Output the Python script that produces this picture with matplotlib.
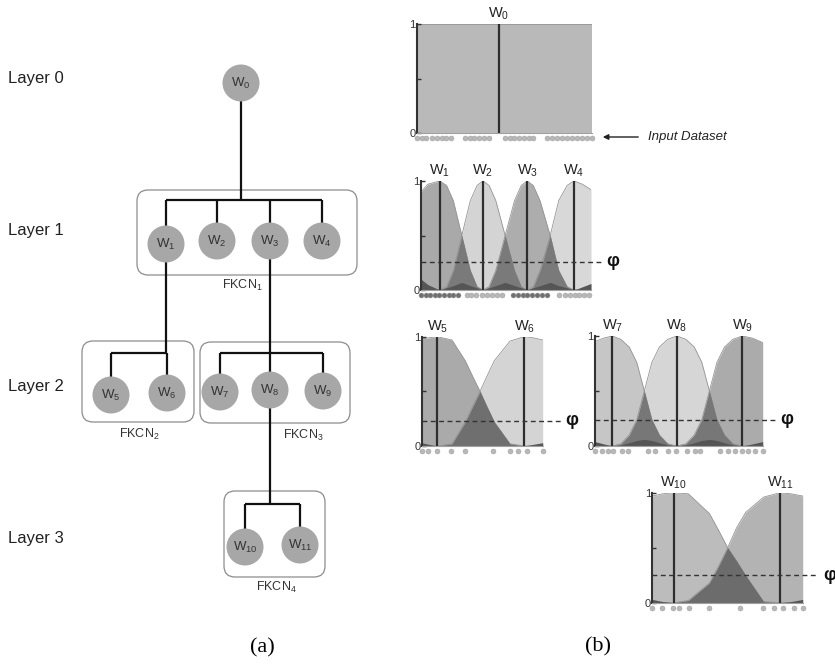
import matplotlib
matplotlib.use('Agg')
import matplotlib.pyplot as plt
from matplotlib.patches import Circle, FancyBboxPatch
import numpy as np

plt.rcParams['font.family'] = ['Liberation Sans', 'DejaVu Sans']
plt.rcParams['mathtext.default'] = 'regular'

W, H = 835, 668

# ---------------- (a) tree ----------------
LAYER_LABELS = ['Layer 0', 'Layer 1', 'Layer 2', 'Layer 3']
NODE_IDS = ['0', '1', '2', '3', '4', '5', '6', '7', '8', '9', '10', '11']
CLUSTER_IDS = ['1', '2', '3', '4']
CLUSTER_PARENT = [0, 1, 3, 8]
CLUSTER_CHILDREN = [[1, 2, 3, 4], [5, 6], [7, 8, 9], [10, 11]]

# ---------------- (b) membership panels ----------------
P0_X = [0, 100]
P0_W0 = [1.0, 1.0]
P0_CENTERS = [46.9]
P0_DOTS = [0, 2.7, 5.3, 8.6, 11.3, 14, 16.7, 19.4, 27.4, 30.1, 32.8, 35.5, 38.2, 40.9,
           50.3, 53, 55.7, 58.4, 61.1, 63.8, 66.5, 74, 76.9, 79.8, 82.7, 85.6, 88.5,
           91.4, 94.3, 97.2, 100]

P1_X = [0, 4, 11, 15, 19, 24, 29, 33, 36.5, 40, 44, 49.5, 55, 59, 62.5, 66, 70, 76, 81, 86, 90, 95, 100]
P1_W1 = [0.90, 0.97, 1.00, 0.96, 0.82, 0.50, 0.18, 0.03, 0, 0, 0, 0, 0, 0, 0, 0, 0, 0, 0, 0, 0, 0, 0]
P1_W2 = [0, 0, 0, 0.03, 0.18, 0.50, 0.82, 0.96, 1.00, 0.96, 0.82, 0.50, 0.18, 0.03, 0, 0, 0, 0, 0, 0, 0, 0, 0]
P1_W3 = [0, 0, 0, 0, 0, 0, 0, 0, 0, 0.03, 0.18, 0.50, 0.82, 0.96, 1.00, 0.96, 0.82, 0.50, 0.18, 0.03, 0, 0, 0]
P1_W4 = [0, 0, 0, 0, 0, 0, 0, 0, 0, 0, 0, 0, 0, 0, 0, 0.03, 0.18, 0.50, 0.82, 0.96, 1.00, 0.97, 0.92]
P1_LOW = [0.10, 0.05, 0, 0.02, 0.04, 0.07, 0.04, 0.02, 0, 0.02, 0.04, 0.07, 0.04, 0.02, 0, 0.02, 0.04, 0.07, 0.04, 0.02, 0, 0.03, 0.06]
P1_CENTERS = [11, 36.5, 62.5, 90]
P1_DOTS = [[0, 2.7, 5.3, 8, 10.8, 13.5, 16.3, 19, 21.8],
           [26.9, 29.6, 32.4, 35.7, 39, 41.8, 44.5, 47.5],
           [54.3, 57.1, 59.8, 62.5, 65.3, 68, 71, 74],
           [81.4, 84.9, 87.6, 90.4, 93.1, 95.9, 98.6]]
P1_PHI = 0.26

P2A_X = [0, 6, 12.9, 25, 36, 42, 48.2, 54, 60, 73, 84.8, 92, 100]
P2A_W5 = [0.98, 0.99, 1.0, 0.97, 0.78, 0.64, 0.50, 0.36, 0.22, 0.02, 0, 0, 0]
P2A_W6 = [0, 0, 0, 0.02, 0.22, 0.36, 0.50, 0.64, 0.78, 0.96, 1.0, 0.99, 0.97]
P2A_LOW = [0.03, 0.015, 0, 0, 0, 0, 0, 0, 0, 0, 0, 0.015, 0.03]
P2A_CENTERS = [12.9, 84.8]
P2A_DOTS = [0, 5.5, 12.9, 24.6, 36.1, 59, 73, 79.9, 87.3, 100]
P2A_PHI = 0.23

P2B_X = [0, 5, 10.3, 15.4, 20.4, 24.9, 29.4, 33.9, 38.4, 43.4, 48.7, 54.2, 59.2, 63.7, 68.2, 72.7, 77.2, 82.2, 87.8, 94, 100]
P2B_W7 = [0.95, 0.98, 1.00, 0.97, 0.90, 0.76, 0.50, 0.24, 0.10, 0.02, 0, 0, 0, 0, 0, 0, 0, 0, 0, 0, 0]
P2B_W8 = [0, 0, 0, 0.02, 0.10, 0.24, 0.50, 0.76, 0.90, 0.97, 1.00, 0.97, 0.90, 0.76, 0.50, 0.24, 0.10, 0.02, 0, 0, 0]
P2B_W9 = [0, 0, 0, 0, 0, 0, 0, 0, 0, 0, 0, 0.02, 0.10, 0.24, 0.50, 0.76, 0.90, 0.97, 1.00, 0.98, 0.94]
P2B_LOW = [0.04, 0.02, 0, 0.01, 0.03, 0.05, 0.06, 0.05, 0.03, 0.01, 0, 0.01, 0.03, 0.05, 0.06, 0.05, 0.03, 0.01, 0, 0.02, 0.04]
P2B_CENTERS = [10.3, 48.7, 87.8]
P2B_DOTS = [0, 4, 7.9, 10.9, 15.9, 19.9, 31.8, 35.8, 43.7, 48.3, 54.7, 59.6, 62.6, 74.5,
            79.5, 83.5, 87.5, 91.4, 95.4, 100]
P2B_PHI = 0.24

P3_X = [0, 7, 14.4, 24, 38, 44, 50.1, 56, 62, 74, 84.9, 92, 100]
P3_W10 = [0.97, 0.99, 1.00, 0.99, 0.81, 0.66, 0.50, 0.38, 0.25, 0.01, 0, 0, 0]
P3_W11 = [0, 0, 0, 0.02, 0.18, 0.33, 0.50, 0.68, 0.82, 0.96, 1.00, 0.99, 0.97]
P3_LOW = [0.03, 0.01, 0, 0, 0, 0, 0, 0, 0, 0, 0, 0.01, 0.03]
P3_CENTERS = [14.4, 84.9]
P3_DOTS = [0, 6.7, 13.7, 17.9, 24.7, 37.8, 58.4, 73.5, 80.6, 86.8, 93.9, 100]
P3_PHI = 0.25


def wlabel(i):
    return r'$W_{%s}$' % i


fig = plt.figure(figsize=(W / 100, H / 100), dpi=100)
base = fig.add_axes([0, 0, 1, 1])
base.set_xlim(0, W)
base.set_ylim(H, 0)
base.axis('off')

# node centres in pixels
node_xy = {0: (241, 83), 1: (166, 244), 2: (217, 241), 3: (270, 241), 4: (322, 241),
           5: (111, 395), 6: (167, 393), 7: (220, 392), 8: (270, 390), 9: (323, 391),
           10: (245, 547), 11: (300, 545)}
bar_y = [200, 353, 353, 504]
boxes = [(137, 190, 357, 275), (82, 341, 194, 422), (200, 342, 350, 423), (224, 491, 325, 577)]
cluster_lbl_xy = [(242, 285), (139, 434), (303, 435), (276, 587)]
layer_y = [79, 230, 386, 538]

line_kw = dict(color='#111111', lw=1.6, zorder=2, solid_capstyle='butt')
for k, (p, kids) in enumerate(zip(CLUSTER_PARENT, CLUSTER_CHILDREN)):
    px, py = node_xy[p]
    by = bar_y[k]
    base.plot([px, px], [py, by], **line_kw)
    xs = [node_xy[c][0] for c in kids]
    base.plot([min(xs), max(xs)], [by, by], **line_kw)
    for c in kids:
        cx, cy = node_xy[c]
        base.plot([cx, cx], [by, cy], **line_kw)
    x0, y0, x1, y1 = boxes[k]
    base.add_patch(FancyBboxPatch((x0, y0), x1 - x0, y1 - y0,
                                  boxstyle='round,pad=0,rounding_size=11',
                                  fc='none', ec='#8c8c8c', lw=0.9, zorder=1))
    lx, ly = cluster_lbl_xy[k]
    base.text(lx, ly, r'$FKCN_{%s}$' % CLUSTER_IDS[k], ha='center', va='center',
              fontsize=9, color='#333333')

for i, nid in enumerate(NODE_IDS):
    cx, cy = node_xy[i]
    base.add_patch(Circle((cx, cy), 18.5, fc='#a7a7a7', ec='none', zorder=3))
    base.text(cx, cy, wlabel(nid), ha='center', va='center', fontsize=9.5,
              color='#333333', zorder=4)

for lab, y in zip(LAYER_LABELS, layer_y):
    base.text(8, y, lab, ha='left', va='center', fontsize=12, color='#222222')

base.text(262, 648, '(a)', ha='center', va='center', fontsize=16,
          family=['Liberation Serif', 'DejaVu Serif'])
base.text(598, 647, '(b)', ha='center', va='center', fontsize=16,
          family=['Liberation Serif', 'DejaVu Serif'])

base.annotate('', xy=(600, 137), xytext=(641, 137),
              arrowprops=dict(arrowstyle='-|>', color='#222222', lw=1.0, mutation_scale=8))
base.text(648, 137, 'Input Dataset', ha='left', va='center', fontsize=9.5,
          style='italic', color='#222222')


def px_axes(l, t, r, b):
    ax = fig.add_axes([l / W, 1 - b / H, (r - l) / W, (b - t) / H])
    ax.set_facecolor('none')
    ax.set_xlim(0, 100)
    ax.set_ylim(0, 1)
    for s in ['top', 'right']:
        ax.spines[s].set_visible(False)
    ax.spines['left'].set_color('#333333')
    ax.spines['left'].set_linewidth(1.5)
    ax.spines['bottom'].set_color('#a0a0a0')
    ax.spines['bottom'].set_linewidth(0.8)
    ax.set_xticks([])
    ax.set_yticks([0, 0.5, 1])
    ax.set_yticklabels(['0', '', '1'])
    ax.tick_params(axis='y', direction='in', length=3, width=1, color='#333333',
                   labelsize=8, pad=1, labelcolor='#333333')
    return ax


def draw_panel(ax, xs, curves, colors, overlap_col, low, centers, names,
               dots, dot_cols, phi=None, phi_end=None, phi_txt=None):
    xs = np.asarray(xs, float)
    for y, c in zip(curves, colors):
        ax.fill_between(xs, 0, y, color=c, lw=0, zorder=1)
        ax.plot(xs, y, color='#959595', lw=0.6, zorder=1.5)
    for a, b in zip(curves[:-1], curves[1:]):
        ax.fill_between(xs, 0, np.minimum(a, b), color=overlap_col, lw=0, zorder=2)
    if low is not None:
        ax.fill_between(xs, 0, low, color='#555555', lw=0, zorder=2.5)
    ax.vlines(centers, 0, 1, color='#2e2e2e', lw=1.6, zorder=4)
    for cx, n in zip(centers, names):
        ax.text(cx, 1.015, wlabel(n), ha='center', va='bottom', fontsize=10.5,
                color='#222222')
    for grp, dc in zip(dots, dot_cols):
        ax.scatter(grp, [-0.045] * len(grp), s=13, color=dc, edgecolors='#9a9a9a',
                   linewidths=0.3, clip_on=False, zorder=6)
    if phi is not None:
        ax.plot([0, phi_end], [phi, phi], ls=(0, (3.5, 2.5)), color='#333333', lw=1.0,
                clip_on=False, zorder=5)
        ax.text(phi_txt, phi, 'φ', ha='center', va='center', fontsize=13,
                fontweight='bold', color='#111111')


LIGHT_DOT = '#b8b8b8'
DARK_DOT = '#6f6f6f'

ax0 = px_axes(417, 24, 592, 133)
draw_panel(ax0, P0_X, [P0_W0], ['#b9b9b9'], '#777777', None, P0_CENTERS, ['0'],
           [P0_DOTS], [LIGHT_DOT])

ax1 = px_axes(421, 181, 591, 290)
draw_panel(ax1, P1_X, [P1_W1, P1_W2, P1_W3, P1_W4],
           ['#a9a9a9', '#d4d4d4', '#adadad', '#d8d8d8'], '#7a7a7a', P1_LOW,
           P1_CENTERS, ['1', '2', '3', '4'], P1_DOTS,
           [DARK_DOT, LIGHT_DOT, DARK_DOT, LIGHT_DOT], P1_PHI, 107, 113)

ax2 = px_axes(421.7, 336.7, 542.7, 446)
draw_panel(ax2, P2A_X, [P2A_W5, P2A_W6], ['#aaaaaa', '#d4d4d4'], '#6f6f6f', P2A_LOW,
           P2A_CENTERS, ['5', '6'], [P2A_DOTS], [LIGHT_DOT], P2A_PHI, 115.7, 124)

ax3 = px_axes(595, 336, 762.7, 446)
draw_panel(ax3, P2B_X, [P2B_W7, P2B_W8, P2B_W9], ['#c6c6c6', '#d6d6d6', '#ababab'],
           '#777777', P2B_LOW, P2B_CENTERS, ['7', '8', '9'], [P2B_DOTS], [LIGHT_DOT],
           P2B_PHI, 108.3, 114.3)

ax4 = px_axes(652.3, 492.7, 802.7, 602.7)
draw_panel(ax4, P3_X, [P3_W10, P3_W11], ['#bcbcbc', '#b3b3b3'], '#6c6c6c', P3_LOW,
           P3_CENTERS, ['10', '11'], [P3_DOTS], [LIGHT_DOT], P3_PHI, 110.2, 118)

fig.savefig('out.png', dpi=100)
